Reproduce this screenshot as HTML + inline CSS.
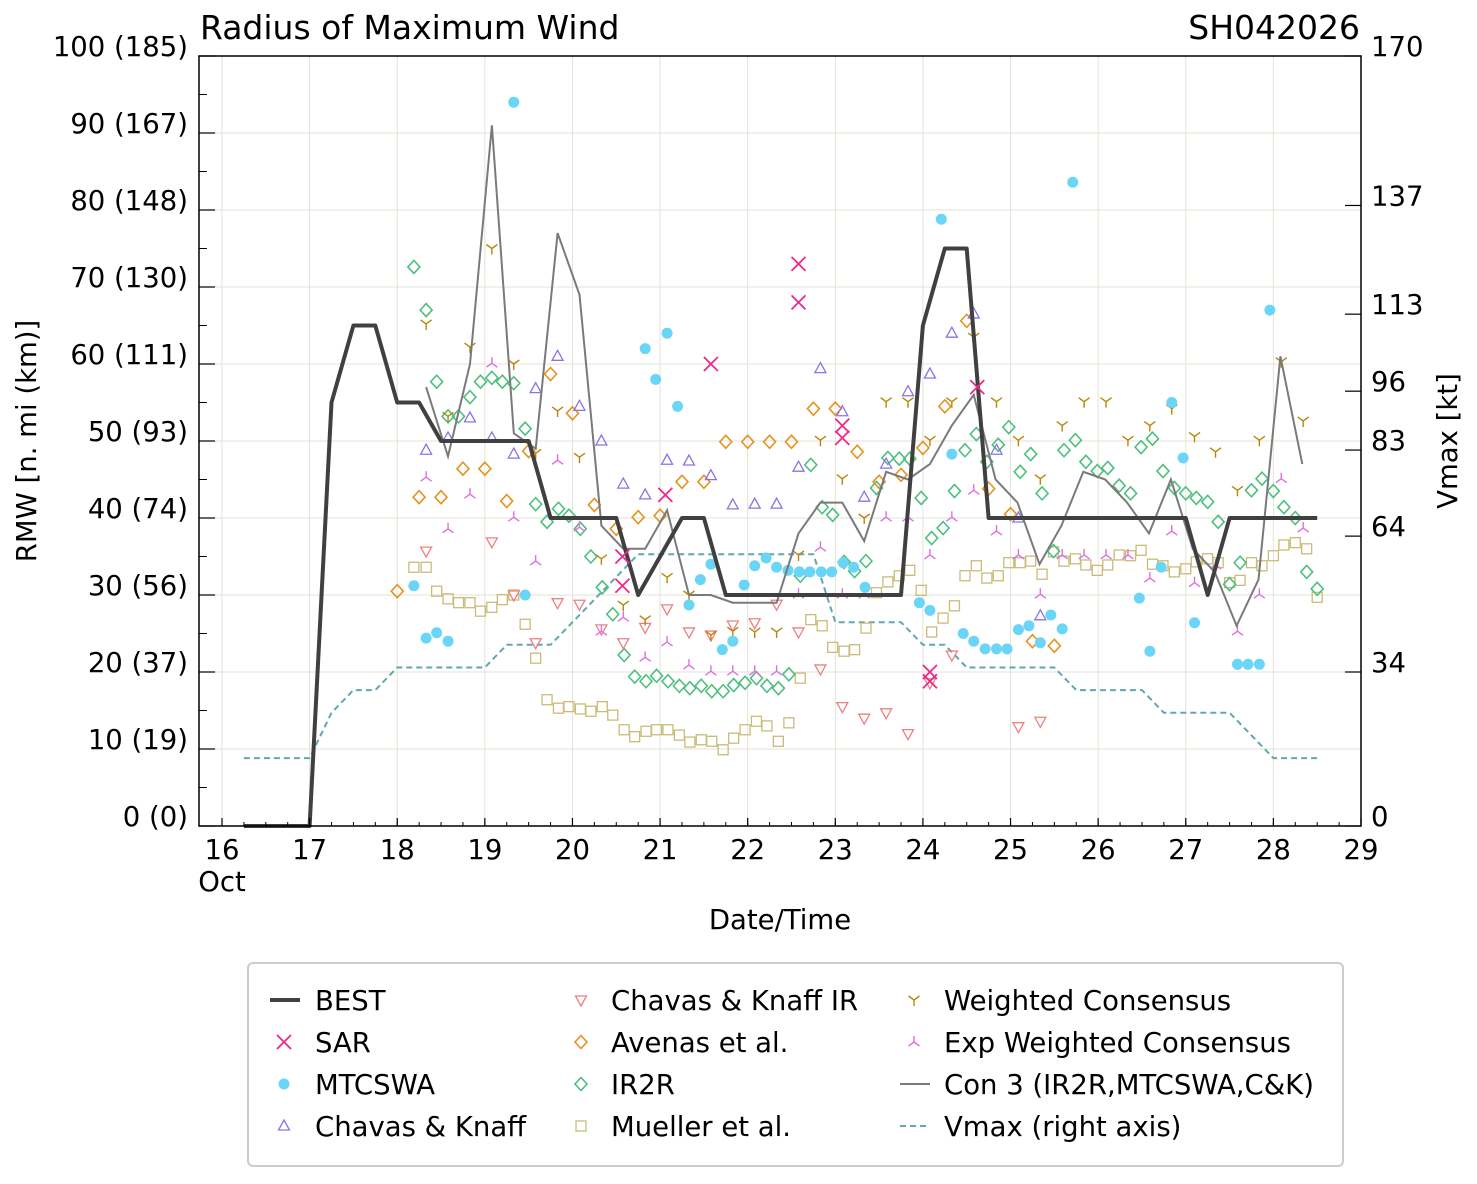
<!DOCTYPE html>
<html><head><meta charset="utf-8"><style>
body{margin:0;background:#fff;font-family:"DejaVu Sans","Liberation Sans",sans-serif;}
svg text{font-family:"DejaVu Sans","Liberation Sans",sans-serif;fill:#000;}
</style></head><body>
<svg id="chart" width="1477" height="1180" xmlns="http://www.w3.org/2000/svg">
<rect width="1477" height="1180" fill="#fff"/>
<g id="grid"></g><g id="series"></g><g id="axes"></g><g id="legend"></g>
</svg>
<script>
const bestT=[16.25,16.5,16.75,17,17.25,17.5,17.75,18,18.25,18.5,18.75,19,19.25,19.5,19.75,20,20.25,20.5,20.75,21,21.25,21.5,21.75,22,22.25,22.5,22.75,23,23.25,23.5,23.75,24,24.25,24.5,24.75,25,25.25,25.5,25.75,26,26.25,26.5,26.75,27,27.25,27.5,27.75,28,28.25,28.5];
const bestV=[0,0,0,0,55,65,65,55,55,50,50,50,50,50,40,40,40,40,30,35,40,40,30,30,30,30,30,30,30,30,30,65,75,75,40,40,40,40,40,40,40,40,40,40,30,40,40,40,40,40];
const vmaxT=[16.25,16.5,16.75,17,17.25,17.5,17.75,18,18.25,18.5,18.75,19,19.25,19.5,19.75,20,20.25,20.5,20.75,21,21.25,21.5,21.75,22,22.25,22.5,22.75,23,23.25,23.5,23.75,24,24.25,24.5,24.75,25,25.25,25.5,25.75,26,26.25,26.5,26.75,27,27.25,27.5,27.75,28,28.25,28.5];
const vmaxV=[15,15,15,15,25,30,30,35,35,35,35,35,40,40,40,45,50,55,60,60,60,60,60,60,60,60,60,45,45,45,45,40,40,35,35,35,35,35,30,30,30,30,25,25,25,25,20,15,15,15];
const conT=[18.33,18.58,18.83,19.08,19.33,19.58,19.83,20.08,20.33,20.58,20.83,21.08,21.33,21.58,21.83,22.08,22.33,22.58,22.83,23.08,23.33,23.58,23.83,24.08,24.33,24.58,24.83,25.08,25.33,25.58,25.83,26.08,26.33,26.58,26.83,27.08,27.33,27.58,27.83,28.08,28.33];
const conV=[57,48,60,91,51,49,77,69,39,36,36,41,30,30,29,29,29,38,42,42,37,46,45,47,52,56,45,42,34,39,46,45,42,38,45,36,33,26,32,61,47];
const mtT=[18.19,18.33,18.45,18.58,19.33,19.46,20.83,20.95,21.08,21.2,21.33,21.46,21.58,21.71,21.83,21.96,22.08,22.21,22.33,22.46,22.59,22.71,22.84,22.96,23.09,23.21,23.34,23.96,24.08,24.21,24.33,24.46,24.58,24.71,24.84,24.96,25.09,25.21,25.34,25.46,25.59,25.71,26.47,26.59,26.72,26.84,26.97,27.1,27.59,27.71,27.84,27.96];
const mtV=[31.2,24.4,25.1,24,94,30,62,58,64,54.5,28.7,32,34,22.9,24,31.3,33.8,34.8,33.6,33.2,33,33,33,33,34.2,33.6,31,29,28,78.8,48.3,25,24,23,23,23,25.5,26,23.8,27.4,25.6,83.6,29.6,22.7,33.6,55,47.8,26.4,21,21,21,67];
const sarT=[20.57,20.57,21.06,21.58,22.58,22.58,23.08,23.08,24.08,24.08,24.62];
const sarV=[35,31.2,43,60,73,68,52,50.4,20,18.8,57];
const ckT=[18.33,18.58,18.83,19.08,19.33,19.58,19.83,20.08,20.33,20.58,20.83,21.08,21.33,21.58,21.83,22.08,22.33,22.58,22.83,23.08,23.33,23.58,23.83,24.08,24.33,24.58,24.84,25.09,25.34];
const ckV=[48.8,50.4,53,50.4,48.3,56.8,61,54.5,50,44.4,43,47.5,47.4,45.5,41.7,41.8,41.8,46.6,59.4,53.8,42.7,47,56.4,58.7,64,66.5,48.8,40,27.3];
const ckirT=[18.33,19.08,19.33,19.58,19.83,20.08,20.33,20.58,20.83,21.08,21.33,21.58,21.83,22.08,22.33,22.58,22.83,23.08,23.33,23.58,23.83,24.08,24.33,25.09,25.34];
const ckirV=[35.7,36.9,30,23.8,29,28.8,25.6,23.8,25.8,28.2,25.2,24.8,26.1,26.4,28.8,25.2,20.4,15.5,14,14.7,12,18.6,22.2,12.9,13.6];
const avT=[18,18.25,18.5,18.75,19,19.25,19.5,19.75,20,20.25,20.5,20.75,21,21.25,21.5,21.75,22,22.25,22.5,22.75,23,23.25,23.5,23.75,24,24.25,24.5,24.75,25,25.25,25.5];
const avV=[30.5,42.7,42.7,46.4,46.4,42.2,48.7,58.7,53.6,41.7,38.6,40.1,40.3,44.7,44.7,49.9,49.9,49.9,49.9,54.2,54.2,48.6,44.7,45.6,49.1,54.5,65.6,43.8,40.5,24,23.4];
const irT=[18.19,18.33,18.45,18.58,18.7,18.83,18.95,19.08,19.2,19.33,19.46,19.58,19.71,19.84,19.96,20.09,20.21,20.34,20.46,20.59,20.71,20.84,20.96,21.09,21.22,21.34,21.47,21.59,21.72,21.84,21.97,22.1,22.22,22.35,22.47,22.6,22.72,22.85,22.97,23.1,23.22,23.35,23.47,23.6,23.73,23.85,23.98,24.1,24.23,24.36,24.48,24.61,24.73,24.86,24.98,25.11,25.23,25.36,25.49,25.61,25.74,25.86,25.99,26.11,26.24,26.37,26.49,26.62,26.74,26.87,27,27.12,27.25,27.37,27.5,27.62,27.75,27.87,28,28.12,28.25,28.38,28.5];
const irV=[72.6,67,57.7,53.2,53.2,55.7,57.7,58.2,57.7,57.5,51.6,41.8,39.5,41.2,40.3,38.6,35,31,27.5,22.2,19.4,18.8,19.5,18.8,18.2,17.9,18.2,17.5,17.5,18.3,18.6,19.2,18.2,17.9,19.7,32.5,46.9,41.4,40.4,34.3,33.1,34.4,43.9,47.8,47.7,47.7,42.6,37.4,38.7,43.5,48.8,50.9,47.3,49.5,51.8,46,48.3,43.2,35.7,48.8,50.1,47.3,46.1,46.5,44.2,43.2,49.2,50.3,46.1,43.9,43.2,42.6,42.1,39.5,31.4,34.2,43.6,45.1,43.5,41.4,40,33,30.8];
const muT=irT.slice();
const muV=[33.6,33.6,30.5,29.5,29,29,27.9,28.4,29.4,30,26.2,21.8,16.4,15.3,15.5,15.2,14.9,15.5,14.4,12.5,11.6,12.3,12.5,12.5,11.8,10.9,11.2,11,9.9,11.4,12.5,13.6,13,11,13.4,19.2,26.8,26,23.2,22.7,22.9,25.7,30.3,31.7,32.5,33.2,30.6,25.2,27,28.6,32.5,33.8,32.2,32.5,34.2,34.2,34.4,32.7,35.6,34.4,34.7,33.9,33.2,33.9,35.2,35.1,35.8,34,33.8,33,33.4,34.3,34.7,34.2,31.6,31.9,34.2,33.8,35.1,36.5,36.8,36,29.7];
const wcT=[18.33,18.58,18.83,19.08,19.33,19.58,19.83,20.08,20.33,20.58,20.83,21.08,21.33,21.58,21.83,22.08,22.33,22.58,22.83,23.08,23.33,23.58,23.83,24.08,24.33,24.58,24.84,25.09,25.34,25.59,25.84,26.09,26.34,26.59,26.84,27.1,27.34,27.59,27.84,28.09,28.34];
const wcV=[65.2,53.2,62.2,75,60,48.4,53.9,47.9,34.7,28.7,26.8,32.3,30,24.8,25.3,25.2,25.2,35.2,50.1,45.1,40,55.1,55.1,50.1,55.1,63.5,55.1,50.1,45.1,52,55.1,55.1,50.1,52,54.2,50.6,48.6,43.6,50.1,60.3,52.6];
const ewT=wcT.slice();
const ewV=[45.3,38.6,43.1,60.1,40.1,34.4,47.5,38.8,25.3,27.1,21.9,23.9,20.9,20.1,20.1,20.1,20.1,30.1,36.2,30.1,30.1,40.1,40.1,35.2,40.1,43.6,38.3,35.2,30.1,35.2,35.2,35.2,35.2,32.2,38.3,31.6,33.9,25.3,30.1,45.1,38.7];
const xTicks=[16,17,18,19,20,21,22,23,24,25,26,27,28,29];
const yTicks=[0,10,20,30,40,50,60,70,80,90,100];
const yKm=[0,19,37,56,74,93,111,130,148,167,185];
const rTicks=[0,34,64,83,96,113,137,170];

const NS='http://www.w3.org/2000/svg';
const L=199,R=1361,T=56,B=826;
const X=d=>222+(d-16)*(R-222)/13;
const Y=v=>B-(v/100)*(B-T);
const YR=k=>B-(k/170)*(B-T);
function mk(tag,at,parent){const e=document.createElementNS(NS,tag);for(const k in at)e.setAttribute(k,at[k]);parent.appendChild(e);return e;}
const G=document.getElementById('grid'),S=document.getElementById('series'),A=document.getElementById('axes'),LG=document.getElementById('legend');
xTicks.forEach(t=>{const l=mk('line',{x1:X(t),x2:X(t),y1:T,y2:B,stroke:'#e6e2d6','stroke-width':1},G);

});
yTicks.forEach(t=>{const l=mk('line',{x1:L,x2:R,y1:Y(t),y2:Y(t),stroke:'#e6e2d6','stroke-width':1},G);

});

function line(ts,vs,yf,st,name){const p=ts.map((t,i)=>X(t).toFixed(1)+','+yf(vs[i]).toFixed(1)).join(' ');
const e=mk('polyline',Object.assign({points:p,fill:'none'},st),S);

}
function marker(type,x,y,c,parent){
 let e;
 if(type==='x'){e=mk('path',{d:`M${x-7},${y-7}L${x+7},${y+7}M${x-7},${y+7}L${x+7},${y-7}`,stroke:c,'stroke-width':1.8,fill:'none'},parent);}
 else if(type==='o'){e=mk('circle',{cx:x,cy:y,r:5.5,fill:c},parent);}
 else if(type==='^'){e=mk('path',{d:`M${x},${y-6}L${x+5.5},${y+4}L${x-5.5},${y+4}Z`,stroke:c,'stroke-width':1.3,fill:'none'},parent);}
 else if(type==='v'){e=mk('path',{d:`M${x},${y+6}L${x+5.5},${y-4}L${x-5.5},${y-4}Z`,stroke:c,'stroke-width':1.3,fill:'none'},parent);}
 else if(type==='D'){e=mk('path',{d:`M${x},${y-6.5}L${x+6},${y}L${x},${y+6.5}L${x-6},${y}Z`,stroke:c,'stroke-width':1.6,fill:'none'},parent);}
 else if(type==='s'){e=mk('rect',{x:x-5,y:y-5,width:10,height:10,stroke:c,'stroke-width':1.3,fill:'none'},parent);}
 else if(type==='Y'){e=mk('path',{d:`M${x},${y}L${x},${y+6}M${x},${y}L${x-5.5},${y-4}M${x},${y}L${x+5.5},${y-4}`,stroke:c,'stroke-width':1.4,fill:'none'},parent);}
 else {e=mk('path',{d:`M${x},${y}L${x},${y-6}M${x},${y}L${x-5.5},${y+4}M${x},${y}L${x+5.5},${y+4}`,stroke:c,'stroke-width':1.4,fill:'none'},parent);}
 return e;}
function scatter(ts,vs,type,c,name){ts.forEach((t,i)=>{const e=marker(type,X(t),Y(vs[i]),c,S);

});}

const C={best:'#404040',sar:'#f0288c',mt:'#6ad5f7',ck:'#8b73e6',ckir:'#ee8080',av:'#e39420',ir:'#4fbf7f',mu:'#cbbb78',wc:'#b8860b',ew:'#df6fdf',con:'#7a7a7a',vmax:'#5fa8b0'};
line(vmaxT,vmaxV,YR,{stroke:C.vmax,'stroke-width':2,'stroke-dasharray':'6,4'},'vmax-line');
scatter(muT,muV,'s',C.mu,'mueller-point');
scatter(irT,irV,'D',C.ir,'ir2r-point');
scatter(avT,avV,'D',C.av,'avenas-point');
scatter(ckirT,ckirV,'v',C.ckir,'chavas-knaff-ir-point');
scatter(ckT,ckV,'^',C.ck,'chavas-knaff-point');
scatter(wcT,wcV,'Y',C.wc,'weighted-consensus-point');
scatter(ewT,ewV,'t',C.ew,'exp-weighted-consensus-point');
scatter(mtT,mtV,'o',C.mt,'mtcswa-point');
line(conT,conV,Y,{stroke:C.con,'stroke-width':2},'con3-line');
line(bestT,bestV,Y,{stroke:C.best,'stroke-width':4,'stroke-linejoin':'round'},'best-line');
scatter(sarT,sarV,'x',C.sar,'sar-point');

const fr=mk('rect',{x:L,y:T,width:R-L,height:B-T,fill:'none',stroke:'#000','stroke-width':1.5},A);


function txt(s,x,y,size,anchor,name,extra){const e=mk('text',Object.assign({x:x,y:y,'font-size':size,'text-anchor':anchor},extra||{}),A);e.textContent=s;

return e;}
xTicks.forEach(t=>{mk('line',{x1:X(t),x2:X(t),y1:B,y2:B-8,stroke:'#000','stroke-width':1.2},A);
txt(String(t),X(t),859,27.5,'middle','x-tick-label');});
for(let d=16.25;d<29;d+=0.25){mk('line',{x1:X(d),x2:X(d),y1:B,y2:B-4,stroke:'#000','stroke-width':1},A);}
txt('Oct',222,891,27.5,'middle','x-tick-month');
yTicks.forEach((t,i)=>{mk('line',{x1:L,x2:L+16,y1:Y(t),y2:Y(t),stroke:'#000','stroke-width':1.2},A);
txt(t+' ('+yKm[i]+')',188,Y(t)+0,27.5,'end','y-tick-label');});
for(let v=5;v<100;v+=10){mk('line',{x1:L,x2:L+8,y1:Y(v),y2:Y(v),stroke:'#000','stroke-width':1},A);}
rTicks.forEach(k=>{mk('line',{x1:R,x2:R-16,y1:YR(k),y2:YR(k),stroke:'#000','stroke-width':1.2},A);
txt(String(k),1371,YR(k)+0,27.5,'start','right-tick-label');});
txt('Radius of Maximum Wind',200,39,33,'start','chart-title');
txt('SH042026',1360,39,33,'end','storm-id');
txt('Date/Time',780,929,27.5,'middle','x-axis-title');
txt('RMW [n. mi (km)]',0,0,27.5,'middle','y-axis-title',{transform:'translate(36,441) rotate(-90)'});
txt('Vmax [kt]',0,0,27.5,'middle','right-axis-title',{transform:'translate(1457,441) rotate(-90)'});

const lb=mk('rect',{x:248,y:963,width:1095,height:203,rx:5,fill:'#fff',stroke:'#ccc','stroke-width':2},LG);


const legItems=[['BEST','line',C.best,270,1000],['SAR','x',C.sar,270,1042],['MTCSWA','o',C.mt,270,1084],['Chavas & Knaff','^',C.ck,270,1126],
['Chavas & Knaff IR','v',C.ckir,567,1000],['Avenas et al.','D',C.av,567,1042],['IR2R','D',C.ir,567,1084],['Mueller et al.','s',C.mu,567,1126],
['Weighted Consensus','Y',C.wc,900,1000],['Exp Weighted Consensus','t',C.ew,900,1042],['Con 3 (IR2R,MTCSWA,C&K)','con',C.con,900,1084],['Vmax (right axis)','dash',C.vmax,900,1126]];
legItems.forEach(it=>{const [lab,type,c,x,y]=it;const g=mk('g',{},LG);


if(type==='line')mk('line',{x1:x,x2:x+30,y1:y,y2:y,stroke:c,'stroke-width':4},g);
else if(type==='con')mk('line',{x1:x,x2:x+30,y1:y,y2:y,stroke:c,'stroke-width':2},g);
else if(type==='dash')mk('line',{x1:x,x2:x+30,y1:y,y2:y,stroke:c,'stroke-width':2,'stroke-dasharray':'6,4'},g);
else marker(type,x+14,y,c,g);
const t=mk('text',{x:x+(x===270?45:44),y:y+10,'font-size':27.5},g);t.textContent=lab;});
</script>
</body></html>
